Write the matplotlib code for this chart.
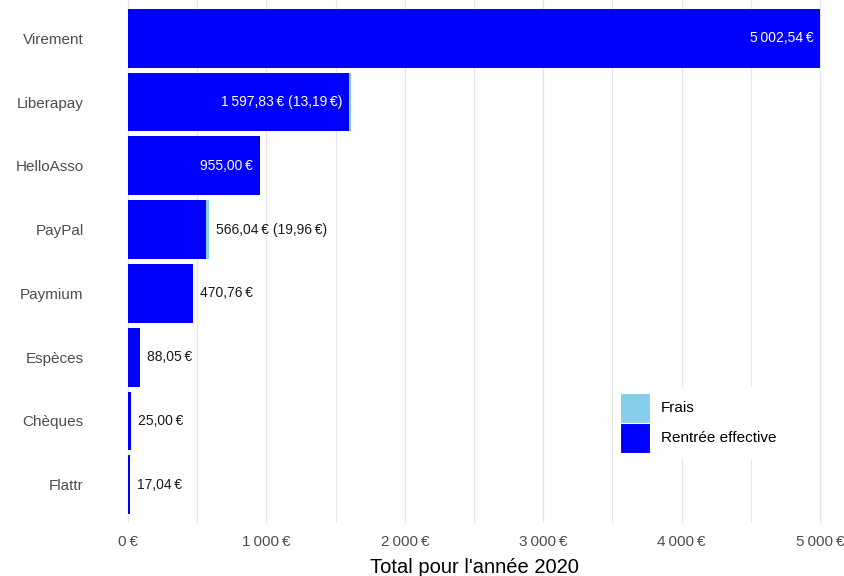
import numpy as np
import matplotlib.pyplot as plt
from matplotlib.patches import Patch

plt.rcParams['font.family'] = ['Liberation Sans', 'DejaVu Sans']

# donnees
moyens = ["Virement", "Liberapay", "HelloAsso", "PayPal", "Paymium", "Espèces", "Chèques", "Flattr"]
rentree = [5002.54, 1597.83, 955.00, 566.04, 470.76, 88.05, 25.00, 17.04]
frais = [0, 13.19, 0, 19.96, 0, 0, 0, 0]
xticks = [0, 1000, 2000, 3000, 4000, 5000]

NNBSP = "\u202f"

def euro(v):
    s = f"{v:,.2f}".replace(",", " ").replace(".", ",").replace(" ", NNBSP)
    return s + NNBSP + "€"

def euro_int(v):
    s = f"{v:,.0f}".replace(",", NNBSP)
    return s + NNBSP + "€"

W, H = 845, 576
fig = plt.figure(figsize=(W / 100, H / 100), dpi=100)

# echelle: 0 -> 128 px, 5000 -> 820 px ; panneau elargi comme ggplot (5%)
px = 692 / 5000.0
total_max = max(r + f for r, f in zip(rentree, frais))
xmin, xmax = -0.05 * total_max, 1.05 * total_max
left_px = 128 + xmin * px
right_px = 128 + xmax * px
ax = fig.add_axes([left_px / W, (576 - 523) / H, (right_px - left_px) / W, 523 / H])

y = np.arange(len(moyens))[::-1]
bleu = "#0000FF"
ciel = "#87CEEB"

ax.barh(y, rentree, height=0.92, color=bleu, zorder=3)
ax.barh(y, frais, left=rentree, height=0.92, color=ciel, zorder=3)

# etiquettes
for yi, r, f in zip(y, rentree, frais):
    txt = euro(r)
    if f > 0:
        txt += " (" + euro(f) + ")"
    if r > 900:
        ax.text(r - 50, yi, txt, ha="right", va="center", color="white", fontsize=10, zorder=4)
    else:
        ax.text(r + f + 50, yi, txt, ha="left", va="center", color="#1a1a1a", fontsize=10, zorder=4)

ax.set_xlim(xmin, xmax)
ax.set_ylim(-0.6, len(moyens) - 0.4)

ax.set_xticks(xticks)
ax.set_xticklabels([euro_int(v) for v in xticks])
ax.set_xticks(np.arange(500, 5000, 1000), minor=True)
ax.set_yticks(y)
ax.set_yticklabels(moyens)

ax.grid(True, axis="x", which="major", color="#E6E6E6", linewidth=1.0, zorder=0)
ax.grid(True, axis="x", which="minor", color="#E6E6E6", linewidth=0.8, zorder=0)
ax.tick_params(axis="both", which="both", length=0, labelsize=11, labelcolor="#4D4D4D")
ax.tick_params(axis="x", pad=9)
ax.tick_params(axis="y", pad=7)
for s in ax.spines.values():
    s.set_visible(False)

ax.set_xlabel("Total pour l'année 2020", fontsize=14.5, color="black", labelpad=6)

handles = [Patch(facecolor=ciel, edgecolor="white", linewidth=0.8, label="Frais"),
           Patch(facecolor=bleu, edgecolor="white", linewidth=0.8, label="Rentrée effective")]
leg = ax.legend(handles=handles, loc="upper left", bbox_to_anchor=(606 / W, 1 - 379 / H),
                bbox_transform=fig.transFigure,
                frameon=True, facecolor="white", edgecolor="white", framealpha=1,
                fontsize=11, handlelength=1.96, handleheight=2.64, handletextpad=0.75,
                labelspacing=0.0, borderpad=0.4)
leg.get_frame().set_linewidth(0)
leg.set_zorder(5)

fig.savefig("out.png", dpi=100)
